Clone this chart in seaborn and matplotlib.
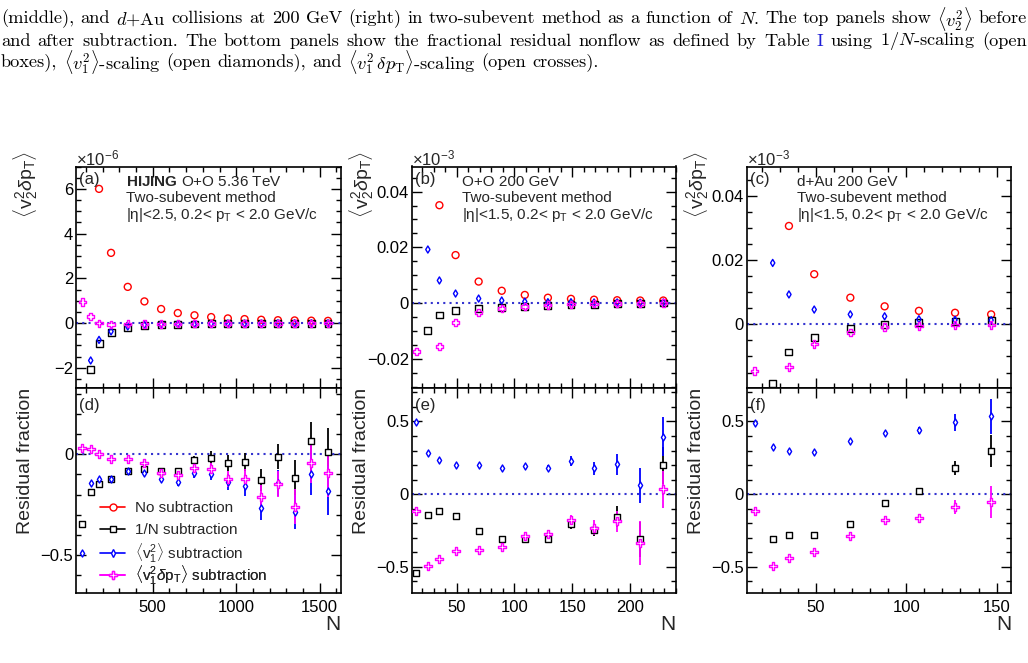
import numpy as np
import pandas as pd
import seaborn as sns
import matplotlib.pyplot as plt
from matplotlib.ticker import MultipleLocator, FuncFormatter
from matplotlib.lines import Line2D

nan = np.nan

# --- HIJING O+O 5.36 TeV (left) ---
N_a = [78, 128, 178, 250, 350, 450, 550, 650, 750, 850, 950, 1050, 1150, 1250, 1350, 1450, 1550]
top_a_nosub = [nan, nan, 6.0, 3.14, 1.62, 0.97, 0.63, 0.45, 0.35, 0.27, 0.21, 0.18, 0.15, 0.13, 0.12, 0.11, 0.10]
top_a_invN = [nan, -2.09, -0.90, -0.43, -0.18, -0.10, -0.07, -0.05, -0.04, -0.03, -0.03, -0.02, -0.02, -0.02, -0.01, -0.01, 0.0]
top_a_v1 = [nan, -1.67, -0.75, -0.37, -0.15, -0.08, -0.06, -0.04, -0.03, -0.03, -0.02, -0.02, -0.02, -0.01, -0.01, -0.01, -0.01]
top_a_v1dpt = [0.94, 0.30, 0.0, -0.06, -0.03, -0.04, -0.04, -0.03, -0.03, -0.02, -0.02, -0.02, -0.02, -0.01, -0.01, 0.0, 0.0]

res_a_invN = [-0.348, -0.187, -0.149, -0.123, -0.081, -0.075, -0.083, -0.083, -0.030, -0.020, -0.042, -0.037, -0.129, -0.013, -0.116, 0.066, 0.011]
err_a_invN = [0.005, 0.005, 0.005, 0.005, 0.005, 0.008, 0.012, 0.015, 0.02, 0.036, 0.04, 0.045, 0.055, 0.062, 0.087, 0.093, 0.12]
res_a_v1 = [-0.49, -0.144, -0.123, -0.123, -0.081, -0.094, -0.124, -0.139, -0.094, -0.10, -0.136, -0.157, -0.268, -0.144, -0.285, -0.10, -0.18]
err_a_v1 = [0.005, 0.005, 0.005, 0.006, 0.008, 0.01, 0.015, 0.02, 0.025, 0.03, 0.04, 0.05, 0.06, 0.065, 0.085, 0.10, 0.12]
res_a_v1dpt = [0.033, 0.026, 0.0, -0.023, -0.021, -0.045, -0.091, -0.103, -0.07, -0.075, -0.124, -0.124, -0.214, -0.147, -0.26, -0.042, -0.094]
err_a_v1dpt = [0.005, 0.005, 0.005, 0.006, 0.008, 0.01, 0.015, 0.02, 0.025, 0.03, 0.04, 0.05, 0.06, 0.065, 0.085, 0.10, 0.12]

# --- O+O 200 GeV (middle) ---
N_b = [15, 25, 35, 49, 69, 89, 109, 129, 149, 169, 189, 209, 229]
top_b_nosub = [nan, nan, 0.0351, 0.0172, 0.0077, 0.0044, 0.0029, 0.0019, 0.0015, 0.0012, 0.0010, 0.0009, 0.0009]
top_b_invN = [nan, -0.0100, -0.0043, -0.0028, -0.0021, -0.0017, -0.0013, -0.0009, -0.0006, -0.0004, -0.0003, -0.0002, 0.0]
top_b_v1 = [nan, 0.0192, 0.0081, 0.0034, 0.0016, 0.0009, 0.0005, 0.0003, 0.0003, 0.0002, 0.0002, 0.0001, 0.0002]
top_b_v1dpt = [-0.0174, nan, -0.0156, -0.0070, -0.0034, -0.0019, -0.0012, -0.0007, -0.0004, -0.0003, -0.0002, -0.0001, 0.0]

res_b_invN = [-0.54, -0.141, -0.117, -0.153, -0.252, -0.306, -0.31, -0.307, -0.208, -0.245, -0.155, -0.31, 0.197]
err_b_invN = [0.005, 0.005, 0.005, 0.006, 0.008, 0.01, 0.012, 0.015, 0.03, 0.04, 0.07, 0.12, 0.13]
res_b_v1 = [0.495, 0.284, 0.236, 0.202, 0.202, 0.181, 0.195, 0.181, 0.229, 0.179, 0.204, 0.06, 0.396]
err_b_v1 = [0.005, 0.006, 0.007, 0.008, 0.01, 0.012, 0.015, 0.02, 0.034, 0.045, 0.07, 0.12, 0.135]
res_b_v1dpt = [-0.119, -0.494, -0.444, -0.394, -0.382, -0.364, -0.29, -0.272, -0.176, -0.231, -0.188, -0.337, 0.032]
err_b_v1dpt = [0.005, 0.006, 0.007, 0.008, 0.01, 0.012, 0.015, 0.02, 0.034, 0.05, 0.07, 0.15, 0.13]

# --- d+Au 200 GeV (right) ---
N_c = [16, 26, 35, 49, 69, 88, 107, 127, 147]
top_c_nosub = [nan, nan, 0.0306, 0.0156, 0.0083, 0.0056, 0.0042, 0.0036, 0.0031]
top_c_invN = [nan, -0.0183, -0.0086, -0.0042, -0.0014, 0.0000, 0.0006, 0.0010, 0.0011]
top_c_v1 = [nan, 0.0191, 0.0093, 0.0046, 0.0031, 0.0025, 0.0016, 0.0014, 0.0013]
top_c_v1dpt = [-0.0145, nan, -0.0133, -0.0061, -0.0025, -0.0008, -0.0005, -0.0002, -0.0002]

res_c_invN = [nan, -0.311, -0.284, -0.28, -0.208, -0.062, 0.023, 0.179, 0.295]
err_c_invN = [0.0, 0.006, 0.007, 0.008, 0.01, 0.012, 0.02, 0.05, 0.11]
res_c_v1 = [0.488, 0.323, 0.30, 0.289, 0.367, 0.422, 0.438, 0.493, 0.536]
err_c_v1 = [0.006, 0.006, 0.007, 0.008, 0.01, 0.015, 0.025, 0.06, 0.12]
res_c_v1dpt = [-0.114, -0.492, -0.437, -0.396, -0.29, -0.181, -0.162, -0.089, -0.057]
err_c_v1dpt = [0.006, 0.006, 0.007, 0.008, 0.01, 0.015, 0.025, 0.05, 0.11]

legend_labels = ["No subtraction", "1/N subtraction",
                 r"$\langle\mathrm{v}_{1}^{2}\rangle$ subtraction",
                 r"$\langle\mathrm{v}_{1}^{2}\delta\mathrm{p}_{\mathrm{T}}\rangle$ subtraction"]

# --- style ---
sns.set_style("ticks")
plt.rcParams["font.family"] = ["Liberation Sans", "DejaVu Sans"]
plt.rcParams["mathtext.fontset"] = "custom"
plt.rcParams["mathtext.rm"] = "Liberation Sans"
plt.rcParams["mathtext.it"] = "Liberation Sans:italic"
plt.rcParams["mathtext.bf"] = "Liberation Sans:bold"
plt.rcParams["mathtext.sf"] = "Liberation Sans"

W, H = 1028, 663
fig = plt.figure(figsize=(W / 100, H / 100), dpi=100)

series_style = {
    "nosub": dict(color="#ff0000", marker="o", s=25),
    "invN": dict(color="black", marker="s", s=25),
    "v1": dict(color="#0000ff", marker="d", s=13),
    "v1dpt": dict(color="#ff00ff", marker="P", s=27),
}


def px_axes(x0, x1, y0, y1):
    return fig.add_axes([x0 / W, 1 - y1 / H, (x1 - x0) / W, (y1 - y0) / H])


def fmt(v, pos):
    return ("%g" % round(v, 6)).replace("-", "\u2212")


def style_axis(ax, xlim, ylim, xmaj, xmin, ymaj, ymin, xlabels):
    ax.set_xlim(*xlim)
    ax.set_ylim(*ylim)
    ax.xaxis.set_major_locator(MultipleLocator(xmaj))
    ax.xaxis.set_minor_locator(MultipleLocator(xmin))
    ax.yaxis.set_major_locator(MultipleLocator(ymaj))
    ax.yaxis.set_minor_locator(MultipleLocator(ymin))
    ax.yaxis.set_major_formatter(FuncFormatter(fmt))
    ax.xaxis.set_major_formatter(FuncFormatter(fmt))
    ax.tick_params(which="both", direction="in", top=True, right=True, width=1.0,
                   labelsize=12, colors="black")
    ax.tick_params(which="major", length=7)
    ax.tick_params(which="minor", length=3.5)
    ax.tick_params(axis="y", pad=2)
    ax.tick_params(axis="x", pad=5)
    if not xlabels:
        ax.tick_params(axis="x", labelbottom=False)
    for sp in ax.spines.values():
        sp.set_linewidth(1.2)
        sp.set_color("black")
        sp.set_visible(True)
    ax.axhline(0, color="#3434d0", ls=(0, (1, 2)), lw=1.5, zorder=1)
    ax.set_xlabel("")
    ax.set_ylabel("")


def draw_series(ax, N, vals, key, err=None, filled=False):
    st = series_style[key]
    if err is not None:
        ax.errorbar(N, vals, yerr=err, fmt="none", ecolor=st["color"],
                    elinewidth=1.3, capsize=0, zorder=2)
    sns.scatterplot(x=N, y=vals, ax=ax, marker=st["marker"], s=st["s"],
                    color=st["color"], edgecolor=st["color"],
                    facecolor="white" if filled else "none",
                    linewidth=1.0, zorder=3, legend=False)


panels = [
    dict(x0=76, x1=340.5, N=N_a, xlim=(40, 1625), xmaj=500, xmin=100,
         tlim=(-2.9, 7.0), tmaj=2, tmin=0.5, rlim=(-0.69, 0.33),
         top=[("nosub", top_a_nosub), ("invN", top_a_invN), ("v1", top_a_v1), ("v1dpt", top_a_v1dpt)],
         res=[("invN", res_a_invN, err_a_invN), ("v1", res_a_v1, err_a_v1), ("v1dpt", res_a_v1dpt, err_a_v1dpt)],
         tag=("(a)", "(d)"), scale=r"×10$^{-6}$",
         lines=[r"$\mathbf{HIJING}$ O+O 5.36 TeV", "Two-subevent method",
                r"|η|<2.5, 0.2< p$_{\mathrm{T}}$ < 2.0 GeV/c"], tx=126),
    dict(x0=411.7, x1=676, N=N_b, xlim=(11, 240), xmaj=50, xmin=10,
         tlim=(-0.0305, 0.049), tmaj=0.02, tmin=0.005, rlim=(-0.68, 0.73),
         top=[("nosub", top_b_nosub), ("invN", top_b_invN), ("v1", top_b_v1), ("v1dpt", top_b_v1dpt)],
         res=[("invN", res_b_invN, err_b_invN), ("v1", res_b_v1, err_b_v1), ("v1dpt", res_b_v1dpt, err_b_v1dpt)],
         tag=("(b)", "(e)"), scale=r"×10$^{-3}$",
         lines=["O+O 200 GeV", "Two-subevent method",
                r"|η|<1.5, 0.2< p$_{\mathrm{T}}$ < 2.0 GeV/c"], tx=462),
    dict(x0=746.7, x1=1011, N=N_c, xlim=(11.6, 158), xmaj=50, xmin=10,
         tlim=(-0.0198, 0.0491), tmaj=0.02, tmin=0.005, rlim=(-0.68, 0.73),
         top=[("nosub", top_c_nosub), ("invN", top_c_invN), ("v1", top_c_v1), ("v1dpt", top_c_v1dpt)],
         res=[("invN", res_c_invN, err_c_invN), ("v1", res_c_v1, err_c_v1), ("v1dpt", res_c_v1dpt, err_c_v1dpt)],
         tag=("(c)", "(f)"), scale=r"×10$^{-3}$",
         lines=["d+Au 200 GeV", "Two-subevent method",
                r"|η|<1.5, 0.2< p$_{\mathrm{T}}$ < 2.0 GeV/c"], tx=797),
]

Y_TOP, Y_MID, Y_BOT = 166.5, 388, 593

for i, p in enumerate(panels):
    ax_t = px_axes(p["x0"], p["x1"], Y_TOP, Y_MID)
    ax_b = px_axes(p["x0"], p["x1"], Y_MID, Y_BOT)
    style_axis(ax_t, p["xlim"], p["tlim"], p["xmaj"], p["xmin"], p["tmaj"], p["tmin"], False)
    style_axis(ax_b, p["xlim"], p["rlim"], p["xmaj"], p["xmin"], 0.5, 0.1, True)

    for key, vals in p["top"]:
        draw_series(ax_t, p["N"], vals, key)
    for key, vals, err in p["res"]:
        draw_series(ax_b, p["N"], vals, key, err=err, filled=True)

    wpx = p["x1"] - p["x0"]
    # y titles
    ax_t.text(-50 / wpx, 1.072,
              r"$\langle\mathrm{v}_{2}^{2}\delta\mathrm{p}_{\mathrm{T}}\rangle$",
              rotation=90, ha="center", va="top", fontsize=14, transform=ax_t.transAxes)
    ax_b.text(-50 / wpx, 1.0, "Residual fraction", rotation=90, ha="center", va="top",
              fontsize=14, transform=ax_b.transAxes)
    ax_b.text(1.0, -0.156, "N", ha="right", va="center", fontsize=15, transform=ax_b.transAxes)

    # power-of-ten label and annotations
    fig.text(p["x0"] / W, 1 - 158 / H, p["scale"], ha="left", va="center", fontsize=12)
    fig.text((p["x0"] + 3) / W, 1 - 180 / H, p["tag"][0], ha="left", va="center", fontsize=12)
    fig.text((p["x0"] + 3) / W, 1 - 405 / H, p["tag"][1], ha="left", va="center", fontsize=12)
    for j, line in enumerate(p["lines"]):
        fig.text(p["tx"] / W, 1 - (181.7 + 16.7 * j) / H, line, ha="left", va="center", fontsize=11)

    if i == 0:
        row_y = [0.415, 0.307, 0.195, 0.088]
        for key, lab, yy in zip(["nosub", "invN", "v1", "v1dpt"], legend_labels, row_y):
            st = series_style[key]
            h = Line2D([], [], color=st["color"], lw=1.2, marker=st["marker"],
                       markersize=np.sqrt(st["s"]), markerfacecolor="white",
                       markeredgecolor=st["color"], markeredgewidth=1.0)
            leg = ax_b.legend([h], [lab], loc="center left", bbox_to_anchor=(24 / wpx, yy),
                              frameon=False, fontsize=11, handlelength=1.65, handletextpad=0.65,
                              borderpad=0, borderaxespad=0)
            ax_b.add_artist(leg)

# --- caption text above the figure ---
renderer = fig.canvas.get_renderer()
cap_kw = dict(family="cmr10", math_fontfamily="cm", va="center", ha="left")


def measure(s, fs):
    t = fig.text(0, 0, s, fontsize=fs, **cap_kw)
    w = t.get_window_extent(renderer).width
    t.remove()
    return w


cap1 = (r"(middle), and $d$+Au collisions at 200 GeV (right) in two-subevent method as a "
        r"function of $N$. The top panels show $\langle{v_2^2}\rangle$ before")
cap2 = (r"and after subtraction. The bottom panels show the fractional residual nonflow as "
        r"defined by Table I using $1/N$-scaling (open")
cap3 = (r"boxes), $\langle{v_1^2}\rangle$-scaling (open diamonds), and "
        r"$\langle{v_1^2}\,\delta{p}_\mathrm{T}\rangle$-scaling (open crosses).")

fs = 12.0
space = measure("a a", fs) - measure("aa", fs)
natural = sum(measure(w, fs) for w in cap1.split(" ")) + space * (len(cap1.split(" ")) - 1)
fs = fs * 1026 / natural
space = measure("a a", fs) - measure("aa", fs)


def draw_caption(line, y, justify):
    words = line.split(" ")
    widths = [measure(w, fs) for w in words]
    gap = (1026 - sum(widths)) / (len(words) - 1) if justify else space
    x = 1.0
    for w, wd in zip(words, widths):
        color = "#1f1fd6" if w == "I" else "black"
        fig.text(x / W, 1 - y / H, w, fontsize=fs, color=color, **cap_kw)
        x += wd + gap


draw_caption(cap1, 18.7, True)
draw_caption(cap2, 41.0, True)
draw_caption(cap3, 62.0, False)

fig.savefig("out.png", dpi=100)
